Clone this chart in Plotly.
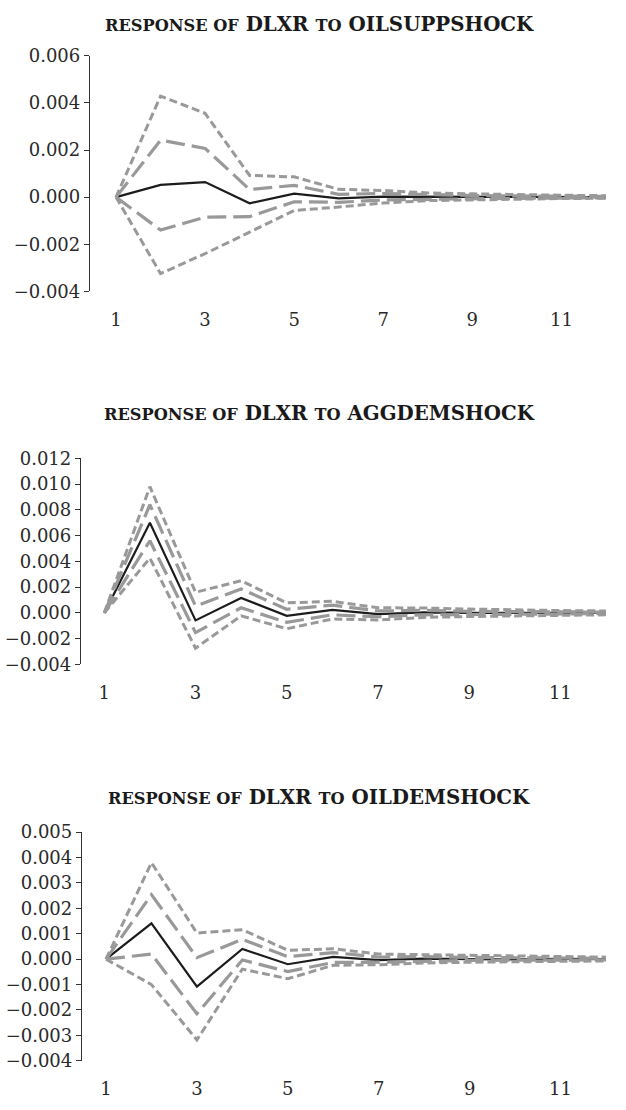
import plotly.graph_objects as go

periods = list(range(1, 13))
x_tick_labels = ["1", "3", "5", "7", "9", "11"]
x_tick_vals = [1, 3, 5, 7, 9, 11]
boundary_ticks = [0.5, 2.5, 4.5, 6.5, 8.5, 10.5]

shock_names = ["OILSUPPSHOCK", "AGGDEMSHOCK", "OILDEMSHOCK"]

# Panel 1: response of DLXR to OILSUPPSHOCK
p1_resp = [0, 0.00052, 0.00064, -0.00026, 0.00015, -0.00005, 0.00002, 0.00001, 0.0, 0.0, 0.0, 0.0]
p1_up1 = [0, 0.00242, 0.00207, 0.00032, 0.0005, 0.00012, 0.00015, 0.0001, 0.00007, 0.00005, 0.00004, 0.00003]
p1_lo1 = [0, -0.0014, -0.00085, -0.00083, -0.0002, -0.00022, -0.00012, -0.00009, -0.00006, -0.00005, -0.00004, -0.00003]
p1_up2 = [0, 0.00429, 0.00356, 0.00092, 0.00086, 0.00033, 0.00028, 0.00018, 0.00014, 0.0001, 0.00008, 0.00006]
p1_lo2 = [0, -0.00325, -0.0024, -0.0015, -0.00057, -0.00042, -0.00025, -0.00015, -0.00011, -0.00008, -0.00006, -0.00005]
p1_yticks = [-0.004, -0.002, 0.0, 0.002, 0.004, 0.006]

# Panel 2: response of DLXR to AGGDEMSHOCK
p2_resp = [0, 0.0070, -0.00058, 0.00116, -0.00023, 0.00023, -0.0001, 0.00004, 0.0, -0.00002, 0.0, 0.0]
p2_up1 = [0, 0.0084, 0.00053, 0.00186, 0.00028, 0.0006, 0.00015, 0.0002, 0.00012, 0.0001, 0.00008, 0.00006]
p2_lo1 = [0, 0.0056, -0.00153, 0.0004, -0.00073, -0.00015, -0.0003, -0.00015, -0.00013, -0.0001, -0.00008, -0.00006]
p2_up2 = [0, 0.0098, 0.0016, 0.0025, 0.00078, 0.0009, 0.0004, 0.00038, 0.0003, 0.00022, 0.00018, 0.00015]
p2_lo2 = [0, 0.00425, -0.00274, -0.00023, -0.00123, -0.00048, -0.00055, -0.00035, -0.00028, -0.00022, -0.00018, -0.00015]
p2_yticks = [-0.004, -0.002, 0.0, 0.002, 0.004, 0.006, 0.008, 0.010, 0.012]

# Panel 3: response of DLXR to OILDEMSHOCK
p3_resp = [0, 0.00141, -0.00108, 0.0004, -0.0002, 0.00009, -0.00004, 0.00002, 0.0, -0.00001, 0.00001, 0.0]
p3_up1 = [0, 0.00254, 0.00006, 0.00078, 0.0001, 0.00026, 0.00008, 0.0001, 0.00007, 0.00005, 0.00004, 0.00003]
p3_lo1 = [0, 0.0002, -0.00215, -0.00003, -0.00049, -0.00013, -0.00012, -0.00007, -0.00005, -0.00004, -0.00003, -0.00003]
p3_up2 = [0, 0.0038, 0.00103, 0.00116, 0.00035, 0.00041, 0.0002, 0.00018, 0.00015, 0.00012, 0.0001, 0.00008]
p3_lo2 = [0, -0.001, -0.00318, -0.00039, -0.00077, -0.00024, -0.00022, -0.00015, -0.00012, -0.0001, -0.00008, -0.00007]
p3_yticks = [-0.004, -0.003, -0.002, -0.001, 0.0, 0.001, 0.002, 0.003, 0.004, 0.005]

W, H = 626, 1110
FONT = "DejaVu Serif"
GRAY = "#999999"
DARK = "#1c1c1c"

# layout geometry (pixels): y-axis left edge, plot top/bottom, x range
panels = [
    dict(resp=p1_resp, up1=p1_up1, lo1=p1_lo1, up2=p1_up2, lo2=p1_lo2, yticks=p1_yticks,
         left=90, top=45.7, bottom=285.7, xr=[0.416, 12.45], title_y=13),
    dict(resp=p2_resp, up1=p2_up1, lo1=p2_lo1, up2=p2_up2, lo2=p2_lo2, yticks=p2_yticks,
         left=81, top=456, bottom=666, xr=[0.489, 12.44], title_y=410),
    dict(resp=p3_resp, up1=p3_up1, lo1=p3_lo1, up2=p3_up2, lo2=p3_lo2, yticks=p3_yticks,
         left=82, top=837, bottom=1070, xr=[0.472, 12.44], title_y=801),
]

fig = go.Figure()
layout = dict(
    width=W, height=H,
    margin=dict(l=0, r=0, t=0, b=0),
    paper_bgcolor="white", plot_bgcolor="white",
    showlegend=False,
    font=dict(family=FONT, size=18, color="#2a2a2a"),
    annotations=[],
)

for i, p in enumerate(panels):
    n = i + 1
    xa = "x" if n == 1 else f"x{n}"
    ya = "y" if n == 1 else f"y{n}"
    ymin, ymax = p["yticks"][0], p["yticks"][-1]
    dom_y = [1 - p["bottom"] / H, 1 - p["top"] / H]
    dom_x = [p["left"] / W, 1.0]

    series = [
        (p["resp"], dict(color=DARK, width=2.2, dash="solid")),
        (p["up1"], dict(color=GRAY, width=3.2, dash="19px,7px")),
        (p["lo1"], dict(color=GRAY, width=3.2, dash="19px,7px")),
        (p["up2"], dict(color=GRAY, width=3.0, dash="8px,4px")),
        (p["lo2"], dict(color=GRAY, width=3.0, dash="8px,4px")),
    ]
    for vals, ln in series:
        fig.add_trace(go.Scatter(x=periods, y=vals, mode="lines", line=ln,
                                 xaxis=xa, yaxis=ya, hoverinfo="skip"))

    # label axis at bottom of panel
    layout[f"xaxis{'' if n == 1 else n}"] = dict(
        domain=dom_x, anchor=ya, range=p["xr"],
        showgrid=False, zeroline=False, showline=False,
        tickvals=x_tick_vals, ticktext=x_tick_labels,
        ticks="outside", ticklen=12, tickcolor="rgba(0,0,0,0)",
        tickfont=dict(family=FONT, size=18, color="#2a2a2a"),
    )
    layout[f"yaxis{'' if n == 1 else n}"] = dict(
        domain=dom_y, anchor=xa, range=[ymin, ymax],
        showgrid=False, zeroline=False,
        showline=True, linecolor="#333333", linewidth=1.3,
        tickvals=p["yticks"], tickformat=".3f",
        ticks="outside", ticklen=5, tickcolor="#333333", tickwidth=1.3,
        tickfont=dict(family=FONT, size=18, color="#2a2a2a"),
    )
    # zero line axis with category-boundary ticks
    zero_pos = dom_y[0] + (0 - ymin) / (ymax - ymin) * (dom_y[1] - dom_y[0])
    layout[f"xaxis{n + 3}"] = dict(
        domain=dom_x, overlaying=xa, anchor="free", position=zero_pos,
        range=p["xr"], showgrid=False, zeroline=False,
        showline=True, linecolor="#111111", linewidth=1.2,
        tickvals=boundary_ticks, ticks="outside", ticklen=5,
        tickcolor="#111111", tickwidth=1.2, showticklabels=False,
    )

    title = (f"<span style='font-size:16.2px'>RESPONSE OF</span> DLXR "
             f"<span style='font-size:16.2px'>TO</span> {shock_names[i]}")
    layout["annotations"].append(dict(
        text=f"<b>{title}</b>", xref="paper", yref="paper",
        x=319 / W, y=1 - p["title_y"] / H, xanchor="center", yanchor="middle",
        showarrow=False, font=dict(family=FONT, size=19.8, color="#1a1a1a"),
    ))

fig.update_layout(**layout)
fig.write_html("out.html")
